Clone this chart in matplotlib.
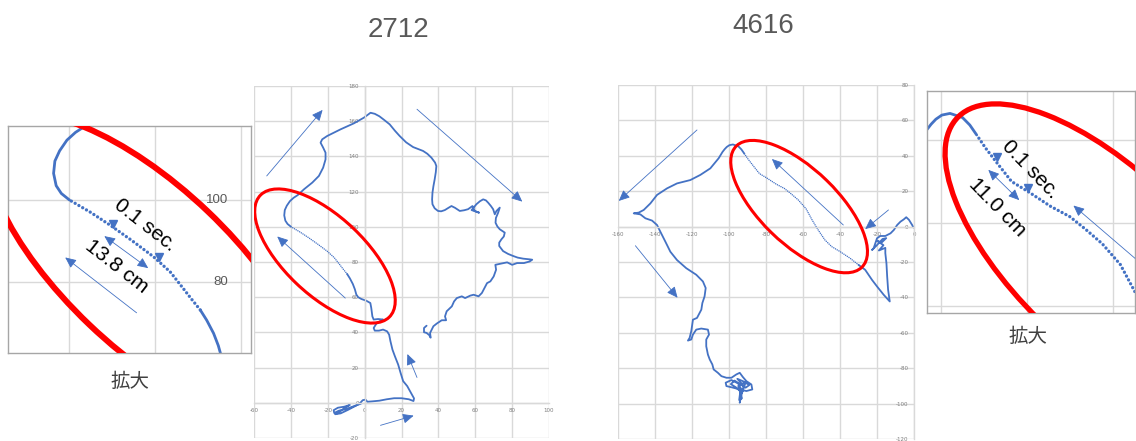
import matplotlib.pyplot as plt
from matplotlib.patches import Ellipse

plt.rcParams["axes.unicode_minus"] = False

BLUE = "#4472C4"
RED = "#FF0000"
GRID = "#D9D9D9"

# ---- trial 2712: head position (cm) ----
# slow part from the start cluster up to the fast run
T2712_A_X = [-2, -6, -10, -14, -16.5, -16.8, -14.5, -11, -8, -11, -14, -16, -13, -9, -5, -2.5,
             -1, 0.5, 1.5, 4, 8, 12, 16, 20, 24, 26.5, 26.8, 25.1, 23.1, 20.9, 19.5, 18.2, 16.4,
             15.1, 14, 13.3, 12.2, 10, 7.8, 5.5, 4.9, 6.4, 9.1, 10, 7.3, 4.9, 4.2, 3.6, 3.1, 0.9,
             -1.8, -3.5, -4.5, -5.3, -6.4, -8, -9.5]
T2712_A_Y = [-0.5, -2, -3.5, -4.5, -5.8, -4.2, -2.8, -2.2, -1.2, -3, -5.5, -6.5, -6, -4, -1.8, -0.2,
             1.5, 1.8, 0.6, 0.8, 1.2, 2, 2.6, 2.6, 2, 1, 2.5, 5.7, 9.5, 12.3, 17, 21.7, 26.5,
             30.2, 35, 38.7, 40.6, 41.6, 41, 41, 42.5, 45, 46.9, 47.3, 47.6, 47.3, 49.1, 53.9, 56.7, 58,
             59, 60, 61.5, 64.5, 67.5, 70.7, 73.2]
# fast run (0.1 s sampling gaps)
T2712_B_X = [-9.5, -11.5, -13.8, -16.5, -20.4, -25.5, -30.5, -35, -39.9]
T2712_B_Y = [73.2, 75.8, 78.9, 82.5, 86.2, 90.2, 93.9, 97, 100]
# slow part after the fast run
T2712_C_X = [-39.9, -41.8, -43, -43.6, -43.3, -42.2, -40.5, -38.5, -36.3, -32.9, -28.4, -24.8, -22.5,
             -21.2, -21.2, -22.5, -23.9, -23, -20.3, -13, -5.8, -0.4, 3.2, 5.5, 8, 10.5, 13.6, 16.5,
             19, 22.5, 26.3, 29, 31.7, 34, 36.2, 38.2, 38.9, 38.6, 38, 37.3, 36.8, 36.6, 36.8, 38,
             39.8, 41.5, 43.5, 45.5, 47.1, 49, 51.6, 54, 56.1, 58.5, 59.7, 62.1, 58, 60.6, 62.5, 64.3,
             65.8, 67, 68.5, 69.7, 70.6, 71.5, 73.3, 72.4, 71.2, 71, 72, 73.3, 76, 75.5, 74.2, 73, 73,
             75.1, 77.8, 80.6, 83, 86, 89.6, 90.9, 89.5, 86.4, 82.7, 80, 77.3, 73.6, 70.9, 71.3, 70,
             68.2, 66.4, 65.5, 63.6, 61.8, 59.1, 57.3, 54.5, 52.7, 50, 48.5, 47.3, 44.5, 43.6, 44.2,
             41.8, 39.1, 37.3, 36.4, 35.5, 35.8, 35, 33.6, 32.2, 32.2, 33.6]
T2712_C_Y = [100, 101.6, 103.5, 106.5, 109.5, 112, 114.6, 116.5, 118, 121.3, 125.1, 128.9, 133.6,
             138.3, 142.1, 145, 147.8, 149.7, 151.6, 155.4, 158.8, 162, 164.8, 164.2, 162.8, 160.8,
             158.2, 154.5, 151.6, 148, 145.3, 144.2, 143.1, 141.5, 139.3, 136.5, 134.5, 131, 127, 123,
             119.4, 115.5, 112.8, 110.5, 109, 108.8, 109.5, 110.8, 111.8, 110.8, 109, 109.4, 110, 111.8,
             109, 108, 109.5, 112.8, 114.5, 115.6, 115, 113.7, 111.8, 110, 107.1, 109, 110.9, 108, 105,
             102.3, 100.2, 98.6, 96.7, 94.5, 92.9, 91, 89.1, 86.2, 84.6, 83.4, 82.5, 81.9, 81.5, 81.3,
             80.3, 79.4, 79.4, 78.4, 79.8, 79, 78.4, 75.6, 71.8, 69, 68, 66.2, 62.4, 60.5, 61.4, 60.9,
             59.5, 60.5, 59.5, 57.6, 54.8, 52, 49.1, 46.9, 46.9, 45, 43.5, 41.6, 39.7, 37, 38.5, 39.7,
             40.1, 42.5, 43.8]

# ---- trial 4616 ----
T4616_A_X = [-0.3, -1, -2.7, -4.2, -5.5, -7.3, -9.1, -10.9, -12.7, -15.5, -18.2, -20, -20.9, -21.8,
             -22.7, -20.5, -17, -15, -17.5, -20, -16.5, -19, -15.5, -15.5, -14.9, -14.5, -14, -13.1,
             -16.4, -20, -22.7, -26.4, -30]
T4616_A_Y = [-0.5, 0.9, 3.8, 5.3, 4.1, 2.8, 0.9, -1.9, -3.8, -5.3, -5.3, -6.6, -9.4, -12.2,
             -13.2, -11, -7, -6.5, -9, -8, -10.5, -13.5, -12, -15, -20.7, -28.2, -35.7, -42.3,
             -38.5, -33.8, -30.1, -24.4, -21.6]
T4616_B_X = [-30, -34.5, -40, -44.5, -48.2, -51.8, -55, -58.3, -62.5, -66.4, -70, -74.5, -79.5,
             -83.6, -87, -89.6, -91.7]
T4616_B_Y = [-21.6, -17.9, -14.1, -11.3, -7.5, -1.9, 3.6, 10, 15, 18.5, 21.5, 24, 27.4,
             30, 34.5, 38, 41.2]
T4616_C_X = [-91.7, -93.3, -95, -97.9, -99.8, -101.2, -102.3, -103.5, -105.6, -110.1, -115.5, -120.9,
             -128.1, -133.5, -138.9, -142.5, -146.1, -148.8, -151.5, -147.9, -145.2, -141.6, -138.9,
             -137.1, -134.4, -131.7, -128.1, -123.1, -117.7, -114.1, -112.6, -113.2, -114.4, -114.95,
             -115.9, -117.3, -119.5, -120, -120.4, -121.3, -122.2, -120.4, -119.5, -117.7, -115, -111.4,
             -110.8, -112.3, -112.3, -111.4, -110.4, -109, -108.3, -106, -104.1, -101.4, -98.7, -96,
             -94.2, -92.5, -90.6, -87.9, -87.4, -90.6, -94.2, -97.8, -101.4, -101.8, -98.7, -95.1,
             -93.3, -93.8, -94.2, -93.5, -92, -95.5, -91, -93, -96, -99, -97, -94, -91, -89, -91.5,
             -95, -94, -93, -94.5, -94]
T4616_C_Y = [41.2, 43.6, 45.4, 46.4, 46, 45, 43.8, 42.2, 38.6, 32.9, 29.2, 26.3,
             24.4, 21.6, 17.9, 13.1, 9.4, 7.9, 7.5, 6.9, 4.7, 3.4, 0.9,
             -2.9, -8.5, -14.2, -18.9, -23.5, -27.2, -31, -34.7, -39.4, -43.2, -46.9,
             -48.8, -51.6, -52.6, -56.3, -59.1, -62.9, -64.4, -63.8, -61, -58.2, -57.6, -58.2,
             -61, -63.8, -67.6, -72.3, -75.1, -77.9, -80.7, -82.6, -84.5, -85.4, -85.4, -83.5,
             -82.6, -85, -87.3, -89.2, -92, -92.9, -92, -91, -90.1, -88.2, -86.7, -88.6,
             -92, -95.7, -99.5, -96, -90, -86, -88, -94, -91, -89, -87, -89, -91, -89.5, -88,
             -90, -93, -97, -98, -94]

# direction-of-travel arrows: (tail, head)
ARROWS_2712 = [((-53.1, 128.9), (-22.8, 166.4)), ((28.4, 166.8), (85.5, 114.3)),
               ((-10.5, 59.5), (-47.4, 94.5)), ((28.4, 14.4), (23.2, 27.7)),
               ((8.6, -12.8), (26.6, -7.3))]
ARROWS_4616 = [((-117.3, 54.6), (-159.6, 14.5)), ((-150.6, -10.8), (-127.8, -40.2)),
               ((-38.2, 0.9), (-76.8, 38.2)), ((-13.8, 9.4), (-26.4, -1.4))]

# highlighted fast run: centre, full axes, angle
RING_2712 = ((-21.5, 83.4), 98.4, 44, -45)
RING_2712_ZOOM = ((-21.5, 83.4), 98.4, 39, -45)
RING_4616 = ((-62.1, 11.3), 96.4, 42, -45.5)

# enlarged views: 0.1 s step markers, span arrow, travel arrow, labels
STEP_2712 = ([-29.7, -19.2], [94.1, 86.2])
SPAN_2712 = ((-31.8, 91.2), (-21.6, 83.4))
TRAVEL_2712 = ((-24.3, 72.5), (-40.9, 86))
STEP_4616 = ([-86.9, -79.7], [36, 28.4])
SPAN_4616 = ((-89, 32.8), (-81.8, 25.5))
TRAVEL_4616 = ((-54.9, 11.5), (-69.2, 24.2))
DIST_2712 = "13.8 cm"
DIST_4616 = "11.0 cm"


def arrow(ax, tail, head, style="-|>", lw=0.6):
    ax.annotate("", xy=head, xytext=tail,
                arrowprops=dict(arrowstyle=f"{style},head_length=0.55,head_width=0.25",
                                color=BLUE, lw=lw, mutation_scale=12,
                                shrinkA=0, shrinkB=0))


def track_axes(fig, rect, xticks, yticks):
    ax = fig.add_axes(rect)
    ax.set_xlim(xticks[0], xticks[-1])
    ax.set_ylim(yticks[0], yticks[-1])
    ax.set_xticks(xticks)
    ax.set_yticks(yticks)
    ax.grid(True, color=GRID, lw=1.0)
    ax.set_axisbelow(True)
    for side in ("top", "right"):
        ax.spines[side].set_visible(False)
    for side in ("left", "bottom"):
        ax.spines[side].set_position(("data", 0))
        ax.spines[side].set_color(GRID)
        ax.spines[side].set_linewidth(1.0)
    ax.tick_params(length=0, labelsize=4, labelcolor="#7F7F7F", pad=4)
    return ax


def zoom_axes(fig, rect, xlim, ylim, xgrid, ygrid):
    ax = fig.add_axes(rect)
    ax.set_xlim(*xlim)
    ax.set_ylim(*ylim)
    ax.set_xticks(xgrid)
    ax.set_yticks(ygrid)
    ax.tick_params(length=0, labelbottom=False, labelleft=False)
    ax.grid(True, color=GRID, lw=1.0)
    ax.set_axisbelow(True)
    for sp in ax.spines.values():
        sp.set_color("#A6A6A6")
        sp.set_linewidth(1.0)
    return ax


def draw_track(ax, segs, lw, dot_lw, gap):
    (ax_, ay), (bx, by), (cx, cy) = segs
    ax.plot(ax_, ay, color=BLUE, lw=lw, solid_capstyle="round", solid_joinstyle="round")
    ax.plot(bx, by, color=BLUE, lw=dot_lw, linestyle=(0, (0.01, gap)),
            dash_capstyle="round")
    ax.plot(cx, cy, color=BLUE, lw=lw, solid_capstyle="round", solid_joinstyle="round")


def ring(ax, spec, lw):
    centre, w, h, ang = spec
    ax.add_patch(Ellipse(centre, w, h, angle=ang, fill=False, ec=RED, lw=lw, zorder=4))


W, H = 1136, 441
fig = plt.figure(figsize=(W / 100, H / 100), dpi=100)


def rect(left, top, right, bottom):
    return [left / W, 1 - bottom / H, (right - left) / W, (bottom - top) / H]


segs_2712 = [(T2712_A_X, T2712_A_Y), (T2712_B_X, T2712_B_Y), (T2712_C_X, T2712_C_Y)]
segs_4616 = [(T4616_A_X, T4616_A_Y), (T4616_B_X, T4616_B_Y), (T4616_C_X, T4616_C_Y)]

# main track 2712
ax1 = track_axes(fig, rect(254, 86, 549, 438), list(range(-60, 101, 20)), list(range(-20, 181, 20)))
draw_track(ax1, segs_2712, 1.3, 1.1, 1.3)
ring(ax1, RING_2712, 2.2)
for tail, head in ARROWS_2712:
    arrow(ax1, tail, head)

# main track 4616
ax2 = track_axes(fig, rect(618, 85, 914, 439), list(range(-160, 1, 20)), list(range(-120, 81, 20)))
draw_track(ax2, segs_4616, 1.3, 1.1, 1.3)
ring(ax2, RING_4616, 2.2)
for tail, head in ARROWS_4616:
    arrow(ax2, tail, head)

# enlarged view of 2712
z1 = zoom_axes(fig, rect(8, 126, 251, 353), (-54.2, 2.3), (62.7, 118.05), [-40, -20, 0], [80, 100])
draw_track(z1, segs_2712, 2.0, 2.4, 1.3)
ring(z1, RING_2712_ZOOM, 4.3)
z1.plot(*STEP_2712, "v", color=BLUE, ms=5.5, zorder=5)
arrow(z1, *SPAN_2712, style="<|-|>")
arrow(z1, *TRAVEL_2712)
for yv in (100, 80):
    z1.text(-3, yv, str(yv), ha="right", va="center", fontsize=9.5, color="#595959",
            family="Liberation Sans")
z1.text(-22.3, 93.9, "0.1 sec.", rotation=-38, ha="center", va="center",
        fontsize=15, family="Liberation Sans", rotation_mode="anchor")
z1.text(-28.9, 83.7, DIST_2712, rotation=-38, ha="center", va="center",
        fontsize=15, family="Liberation Sans", rotation_mode="anchor")

# enlarged view of 4616
z2 = zoom_axes(fig, rect(927, 91, 1135, 313), (-103.26, -54.88), (-1.69, 51.8), [-100, -80, -60], [0, 20, 40])
draw_track(z2, segs_4616, 2.0, 2.4, 1.3)
ring(z2, RING_4616, 3.8)
z2.plot(*STEP_4616, "v", color=BLUE, ms=5.5, zorder=5)
arrow(z2, *SPAN_4616, style="<|-|>")
arrow(z2, *TRAVEL_4616)
z2.text(-79.3, 32.8, "0.1 sec.", rotation=-46, ha="center", va="center",
        fontsize=15, family="Liberation Sans", rotation_mode="anchor")
z2.text(-87, 23.8, DIST_4616, rotation=-46, ha="center", va="center",
        fontsize=15, family="Liberation Sans", rotation_mode="anchor")

# titles and captions
fig.text(398 / W, 1 - 37 / H, "2712", ha="center", va="baseline", fontsize=20,
         color="#595959", family="Liberation Sans")
fig.text(763 / W, 1 - 33 / H, "4616", ha="center", va="baseline", fontsize=20,
         color="#595959", family="Liberation Sans")
fig.text(130 / W, 1 - 387 / H, "拡大", ha="center", va="baseline", fontsize=14,
         color="#404040", family=["Noto Sans CJK JP", "DejaVu Sans"])
fig.text(1028 / W, 1 - 342 / H, "拡大", ha="center", va="baseline", fontsize=14,
         color="#404040", family=["Noto Sans CJK JP", "DejaVu Sans"])

fig.savefig("out.png", dpi=100, facecolor="white")
